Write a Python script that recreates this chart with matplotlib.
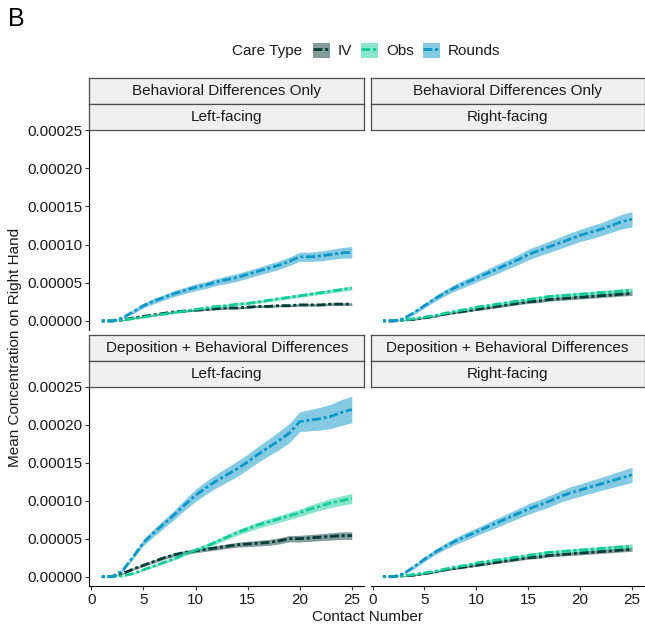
import numpy as np
import matplotlib
matplotlib.use("Agg")
import matplotlib.pyplot as plt
from matplotlib.patches import Patch
from matplotlib.lines import Line2D
from matplotlib.legend_handler import HandlerTuple

plt.rcParams["font.family"] = ["Liberation Sans", "DejaVu Sans"]

# ---------------------------------------------------------------- data
contact = np.arange(1, 26)

care_types = ["IV", "Obs", "Rounds"]
scenario_labels = ["Behavioral Differences Only", "Deposition + Behavioral Differences"]
facing_labels = ["Left-facing", "Right-facing"]

# Behavioral differences only, left-facing
bl_left_iv = [0, 0, 1, 4, 6, 8, 10, 12, 13, 14, 15, 16, 17, 17, 18, 19, 19, 20, 20, 21, 21, 21, 22, 22, 22]
bl_left_obs = [0, 0, 1, 3, 5, 7, 9, 11, 13, 15, 17, 19, 20, 22, 23, 25, 27, 29, 31, 33, 35, 37, 39, 41, 43]
bl_left_rounds = [0, 0, 4, 12, 20, 26, 31, 36, 40, 44, 47, 51, 54, 57, 61, 65, 69, 73, 78, 84, 84, 85, 87, 89, 90]
bl_left_iv_se = [0, 0, .5, 1, 1, 1, 1.2, 1.2, 1.3, 1.3, 1.4, 1.4, 1.5, 1.5, 1.5, 1.5, 1.6, 1.6, 1.6, 1.6, 1.7, 1.7, 1.7, 1.7, 1.8]
bl_left_obs_se = [0, 0, .5, 1, 1, 1.2, 1.2, 1.3, 1.4, 1.5, 1.6, 1.6, 1.7, 1.8, 1.8, 1.9, 2, 2, 2.1, 2.2, 2.2, 2.3, 2.4, 2.4, 2.5]
bl_left_rounds_se = [0, 0, 1, 2.5, 3, 3.5, 3.5, 4, 4, 4.5, 4.5, 4.5, 5, 5, 5, 5, 5.5, 5.5, 5.5, 6, 6, 6.5, 6.5, 7, 7.5]

# Behavioral differences only, right-facing
bl_right_iv = [0, 0, 1, 2, 4, 6, 9, 11, 13, 15, 17, 19, 21, 23, 25, 26, 28, 29, 30, 31, 32, 33, 34, 35, 36]
bl_right_obs = [0, 0, 1, 3, 5, 7, 10, 13, 15, 18, 20, 22, 24, 26, 28, 30, 32, 33, 34, 35, 36, 37, 38, 39, 40]
bl_right_rounds = [0, 0, 3, 11, 20, 29, 37, 44, 50, 56, 62, 68, 74, 80, 87, 92, 97, 102, 107, 112, 116, 120, 125, 130, 133]
bl_right_iv_se = [0, 0, .5, 1, 1, 1, 1.2, 1.3, 1.4, 1.5, 1.6, 1.7, 1.8, 1.9, 2, 2, 2.1, 2.2, 2.2, 2.3, 2.4, 2.4, 2.5, 2.5, 2.6]
bl_right_obs_se = [0, 0, .5, 1, 1, 1.2, 1.3, 1.4, 1.5, 1.6, 1.7, 1.8, 1.9, 2, 2.1, 2.2, 2.3, 2.4, 2.5, 2.5, 2.6, 2.7, 2.8, 2.9, 3]
bl_right_rounds_se = [0, 0, 1, 2.5, 3, 3.5, 4, 4.5, 5, 5, 5.5, 6, 6, 6.5, 7, 7, 7.5, 7.5, 8, 8, 8.5, 8.5, 9, 9.5, 10]

# Deposition + behavioral differences, left-facing
dep_left_iv = [0, 0, 4, 10, 15, 20, 25, 29, 32, 34, 36, 38, 40, 42, 43, 44, 45, 47, 50, 50, 51, 52, 53, 54, 54]
dep_left_obs = [0, 0, 1, 4, 9, 14, 19, 24, 30, 35, 40, 46, 52, 58, 63, 68, 72, 76, 80, 84, 89, 93, 97, 100, 103]
dep_left_rounds = [0, 0, 8, 26, 45, 58, 70, 82, 95, 107, 117, 126, 134, 142, 151, 161, 170, 179, 189, 204, 206, 208, 211, 216, 220]
dep_left_iv_se = [0, 0, 1, 1.5, 1.5, 2, 2, 2.2, 2.4, 2.5, 2.7, 2.9, 3, 3.2, 3.5, 3.7, 3.9, 4, 4.2, 4.4, 4.5, 4.6, 4.8, 4.9, 5]
dep_left_obs_se = [0, 0, .5, 1, 1.2, 1.5, 1.8, 2, 2.2, 2.5, 2.8, 3, 3.3, 3.6, 4, 4.2, 4.4, 4.6, 4.8, 5, 5.3, 5.6, 6, 6.3, 6.6]
dep_left_rounds_se = [0, 0, 2, 3, 4, 5, 5.5, 6, 7, 8, 8.5, 9, 9.5, 10, 10, 10.5, 11, 12, 12.5, 13, 14, 15, 16, 17, 17.5]

# Deposition + behavioral differences, right-facing
dep_right_iv = [0, 0, 1, 2, 4, 6, 9, 11, 13, 15, 17, 19, 21, 23, 25, 26, 28, 29, 30, 31, 32, 33, 34, 35, 36]
dep_right_obs = [0, 0, 1, 3, 5, 7, 10, 13, 15, 18, 20, 22, 24, 26, 28, 30, 32, 33, 34, 35, 36, 37, 38, 39, 40]
dep_right_rounds = [0, 0, 4, 13, 23, 32, 40, 47, 53, 59, 65, 71, 77, 83, 89, 94, 99, 105, 110, 114, 118, 122, 126, 130, 134]
dep_right_iv_se = [0, 0, .5, 1, 1, 1, 1.2, 1.3, 1.4, 1.5, 1.6, 1.7, 1.8, 1.9, 2, 2, 2.1, 2.2, 2.2, 2.3, 2.4, 2.4, 2.5, 2.5, 2.6]
dep_right_obs_se = [0, 0, .5, 1, 1, 1.2, 1.3, 1.4, 1.5, 1.6, 1.7, 1.8, 1.9, 2, 2.1, 2.2, 2.3, 2.4, 2.5, 2.5, 2.6, 2.7, 2.8, 2.9, 3]
dep_right_rounds_se = [0, 0, 1, 2.5, 3, 3.5, 4, 4.5, 5, 5, 5.5, 6, 6, 6.5, 7, 7, 7.5, 7.5, 8, 8, 8.5, 8.5, 9, 9.5, 10]

# values above are in units of 1e-6
UNIT = 1e-6

y_ticks = [0, 0.00005, 0.00010, 0.00015, 0.00020, 0.00025]
x_ticks = [0, 5, 10, 15, 20, 25]

colors = {"IV": "#053b38", "Obs": "#14cc98", "Rounds": "#0a96c8"}

panels = [
    # (row, col, {care: (mean, se)})
    (0, 0, {"IV": (bl_left_iv, bl_left_iv_se), "Obs": (bl_left_obs, bl_left_obs_se),
            "Rounds": (bl_left_rounds, bl_left_rounds_se)}),
    (0, 1, {"IV": (bl_right_iv, bl_right_iv_se), "Obs": (bl_right_obs, bl_right_obs_se),
            "Rounds": (bl_right_rounds, bl_right_rounds_se)}),
    (1, 0, {"IV": (dep_left_iv, dep_left_iv_se), "Obs": (dep_left_obs, dep_left_obs_se),
            "Rounds": (dep_left_rounds, dep_left_rounds_se)}),
    (1, 1, {"IV": (dep_right_iv, dep_right_iv_se), "Obs": (dep_right_obs, dep_right_obs_se),
            "Rounds": (dep_right_rounds, dep_right_rounds_se)}),
]

# ---------------------------------------------------------------- layout (pixels)
W, H = 645, 635
FS = 11
fig = plt.figure(figsize=(W / 100, H / 100), dpi=100)


def rect(x0, y0, x1, y1):
    return [x0 / W, 1 - y1 / H, (x1 - x0) / W, (y1 - y0) / H]


col_x = [(89.3, 364.3), (370.5, 644.5)]
row_strip = [(78.3, 103.5, 130.0), (335.0, 360.7, 386.7)]
row_panel = [(130.0, 330.0), (386.7, 585.7)]

dash = (0, (1.1, 1.0, 3.2, 1.0))
LW = 2.0
xlim = (-0.2, 26.2)
ylim = (-0.0000119, 0.00025)


def strip(x0, x1, y0, y1, label):
    sa = fig.add_axes(rect(x0, y0, x1, y1))
    sa.set_facecolor("#F0F0F0")
    sa.set_xticks([])
    sa.set_yticks([])
    for s in sa.spines.values():
        s.set_color("#4d4d4d")
        s.set_linewidth(0.9)
    sa.text(0.5, 0.5, label, ha="center", va="center", fontsize=FS, color="#1a1a1a",
            transform=sa.transAxes)


for row, col, series in panels:
    x0, x1 = col_x[col]
    y0, y1 = row_panel[row]
    ax = fig.add_axes(rect(x0, y0, x1, y1))
    for care in care_types:
        m, se = series[care]
        m = np.asarray(m) * UNIT
        se = np.asarray(se) * UNIT
        ax.fill_between(contact, m - se, m + se, color=colors[care], alpha=0.5, lw=0)
    for care in care_types:
        m = np.asarray(series[care][0]) * UNIT
        ax.plot(contact, m, color=colors[care], lw=LW, linestyle=dash, solid_capstyle="butt")
    ax.set_xlim(*xlim)
    ax.set_ylim(*ylim)
    for s in ["top", "right"]:
        ax.spines[s].set_visible(False)
    ax.spines["left"].set_visible(col == 0)
    ax.spines["bottom"].set_visible(row == 1)
    for s in ["left", "bottom"]:
        ax.spines[s].set_linewidth(0.8)
        ax.spines[s].set_color("black")
    ax.set_xticks(x_ticks)
    ax.set_yticks(y_ticks)
    ax.tick_params(axis="both", length=2.8, width=0.8, color="#333333", labelsize=FS,
                   labelcolor="#1a1a1a", pad=2.2)
    if col == 0:
        ax.set_yticklabels([f"{v:.5f}" for v in y_ticks])
    else:
        ax.tick_params(axis="y", left=False, labelleft=False)
    if row == 1:
        ax.set_xticklabels([str(v) for v in x_ticks])
    else:
        ax.tick_params(axis="x", bottom=False, labelbottom=False)
    ax.patch.set_alpha(0)

    sy0, sy1, sy2 = row_strip[row]
    strip(x0, x1, sy0, sy1, scenario_labels[row])
    strip(x0, x1, sy1, sy2, facing_labels[col])

# axis titles
fig.text(367 / W, 1 - 617 / H, "Contact Number", ha="center", va="center", fontsize=FS, color="#1a1a1a")
fig.text(15 / W, 1 - 347 / H, "Mean Concentration on Right Hand", ha="center", va="center",
         rotation=90, fontsize=FS, color="#1a1a1a")

# panel letter
fig.text(8 / W, 1 - 19 / H, "B", ha="left", va="center", fontsize=18, color="black")

# legend
fig.text(232 / W, 1 - 50.5 / H, "Care Type", ha="left", va="center", fontsize=FS, color="#1a1a1a")
handles = []
for care in care_types:
    p = Patch(facecolor=colors[care], alpha=0.5, edgecolor="none")
    ln = Line2D([], [], color=colors[care], lw=LW, linestyle=(2.1, (1.1, 1.0, 3.2, 1.0)))
    handles.append((p, ln))
fs_px = FS * 100 / 72
fig.legend(handles, care_types, handler_map={tuple: HandlerTuple(ndivide=1, pad=0)},
           loc="center left", bbox_to_anchor=(312.5 / W, 1 - 50.5 / H), ncol=3, frameon=False,
           fontsize=FS, handlelength=17 / fs_px, handleheight=17 / fs_px,
           handletextpad=8 / fs_px, columnspacing=9 / fs_px, borderpad=0, borderaxespad=0,
           labelcolor="#1a1a1a")

fig.savefig("out.png", dpi=100)
